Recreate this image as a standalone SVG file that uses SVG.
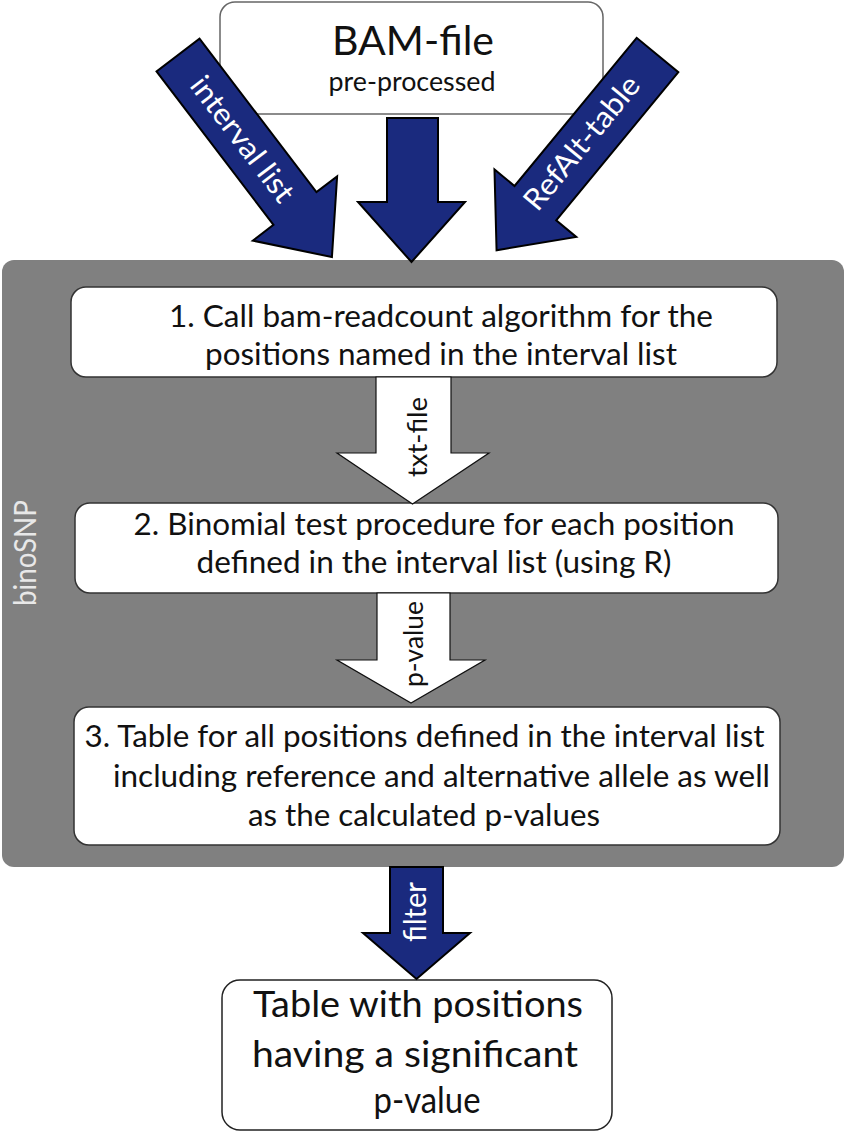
<svg xmlns="http://www.w3.org/2000/svg" width="846" height="1132" viewBox="0 0 846 1132">
<style>
.box{fill:#fff;stroke:#333;stroke-width:1.5}
.blue{fill:#1a2a7e;stroke:#000;stroke-width:2;stroke-linejoin:miter}
.white{fill:#fff;stroke:#111;stroke-width:1.2}
.t{font-family:Lato,"Open Sans","Liberation Sans",sans-serif;fill:#111;text-anchor:middle}
.tw{font-family:Lato,"Open Sans","Liberation Sans",sans-serif;fill:#fff;text-anchor:middle}
</style>
<rect width="846" height="1132" fill="#fff"/>
<g id="binoSNP">
<rect x="2" y="260" width="842" height="607" rx="12" fill="#808080"/>
<text class="tw" transform="translate(36,553) rotate(-90)" font-size="30" textLength="106" lengthAdjust="spacingAndGlyphs" style="fill:#e8e8e8">binoSNP</text>
</g>
<g id="bamfile">
<rect x="220" y="2" width="383" height="112" rx="15" fill="#fff" stroke="#666" stroke-width="1.5"/>
<text class="t" x="413" y="55" font-size="41" textLength="162" lengthAdjust="spacingAndGlyphs">BAM-file</text>
<text class="t" x="412" y="91" font-size="27" textLength="167" lengthAdjust="spacingAndGlyphs">pre-processed</text>
</g>
<g id="step1">
<rect class="box" x="71" y="287" width="706" height="90" rx="15"/>
<text class="t" x="441" y="327" font-size="31" textLength="544" lengthAdjust="spacingAndGlyphs">1. Call bam-readcount algorithm for the</text>
<text class="t" x="441" y="365" font-size="31" textLength="472" lengthAdjust="spacingAndGlyphs">positions named in the interval list</text>
</g>
<g id="step2">
<rect class="box" x="75" y="503" width="703" height="90" rx="15"/>
<text class="t" x="434" y="535" font-size="31" textLength="601" lengthAdjust="spacingAndGlyphs">2. Binomial test procedure for each position</text>
<text class="t" x="434" y="573" font-size="31" textLength="475" lengthAdjust="spacingAndGlyphs">defined in the interval list (using R)</text>
</g>
<g id="step3">
<rect class="box" x="74" y="707" width="706" height="138" rx="15"/>
<text class="t" x="424.5" y="747" font-size="31" textLength="680" lengthAdjust="spacingAndGlyphs">3. Table for all positions defined in the interval list</text>
<text class="t" x="441.5" y="787" font-size="31" textLength="657" lengthAdjust="spacingAndGlyphs">including reference and alternative allele as well</text>
<text class="t" x="424" y="826" font-size="31" textLength="352" lengthAdjust="spacingAndGlyphs">as the calculated p-values</text>
</g>
<g id="result">
<rect x="222" y="980" width="390" height="150" rx="18" fill="#fff" stroke="#222" stroke-width="1.5"/>
<text class="t" x="418" y="1017" font-size="36" textLength="330" lengthAdjust="spacingAndGlyphs">Table with positions</text>
<text class="t" x="415" y="1067" font-size="36" textLength="326" lengthAdjust="spacingAndGlyphs">having a significant</text>
<text class="t" x="427" y="1113" font-size="36" textLength="107" lengthAdjust="spacingAndGlyphs">p-value</text>
</g>
<g id="connectors">
<g transform="translate(178,55) rotate(52.7)">
<path class="blue" d="M0,-27 L193,-27 L193,-53 L254,0 L193,53 L193,27 L0,27 Z"/>
<text class="tw" x="106" y="10" font-size="30" textLength="150" lengthAdjust="spacingAndGlyphs">interval list</text>
</g>
<path class="blue" d="M387,118 H438 V202 H465 L411.5,262 L358,202 H387 Z"/>
<g transform="translate(657.5,55) rotate(129.5)">
<path class="blue" d="M0,-27 L192,-27 L192,-53 L253,0 L192,53 L192,27 L0,27 Z"/>
</g>
<text class="tw" transform="translate(582,143) rotate(-50.5)" y="10" font-size="30" textLength="164" lengthAdjust="spacingAndGlyphs">RefAlt-table</text>
<path class="white" d="M376,377 H451 V453 H489 L412.5,504 L337,453 H376 Z"/>
<text class="t" transform="translate(427,437) rotate(-90)" font-size="27" textLength="80" lengthAdjust="spacingAndGlyphs">txt-file</text>
<path class="white" d="M377,593 H450 V660 H485 L411,703 L337,660 H377 Z"/>
<text class="t" transform="translate(423,644) rotate(-90)" font-size="27" textLength="86" lengthAdjust="spacingAndGlyphs">p-value</text>
<path class="blue" d="M390,867 H443 V933 H470 L416.5,979 L363,933 H390 Z"/>
<text class="tw" transform="translate(426,912) rotate(-90)" font-size="31" textLength="60" lengthAdjust="spacingAndGlyphs">filter</text>
</g>
</svg>
